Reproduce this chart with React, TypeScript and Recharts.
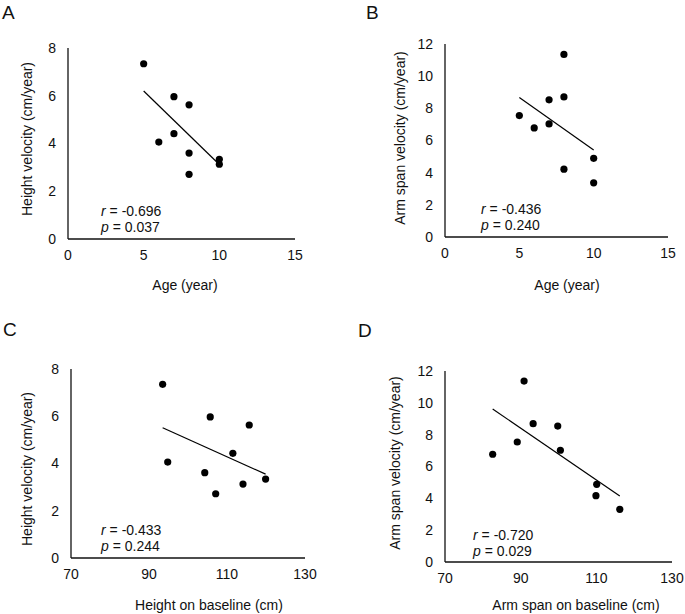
import React from 'react';
import { ScatterChart, Scatter, XAxis, YAxis } from 'recharts';

// panel A: age vs height velocity
const ageA = [5, 7, 8, 7, 6, 8, 8, 10, 10];
const heightVelA = [7.34, 5.96, 5.62, 4.41, 4.06, 3.6, 2.71, 3.34, 3.13];
const trendA = [{ x: 5, y: 6.2 }, { x: 10, y: 3.12 }];

// panel B: age vs arm span velocity
const ageB = [5, 6, 7, 7, 8, 8, 8, 10, 10];
const armVelB = [7.55, 6.78, 8.53, 7.03, 11.35, 8.71, 4.22, 4.89, 3.37];
const trendB = [{ x: 5, y: 8.67 }, { x: 10, y: 5.41 }];

// panel C: height on baseline vs height velocity
const heightBaseC = [93.5, 94.8, 104.3, 105.7, 107.1, 111.5, 114.1, 115.7, 119.9];
const heightVelC = [7.35, 4.06, 3.61, 5.97, 2.72, 4.43, 3.13, 5.63, 3.34];
const trendC = [{ x: 93.5, y: 5.51 }, { x: 119.9, y: 3.55 }];

// panel D: arm span on baseline vs arm span velocity
const armBaseD = [82.6, 89.1, 90.9, 93.3, 99.8, 100.5, 110.1, 109.9, 116.2];
const armVelD = [6.77, 7.54, 11.37, 8.69, 8.54, 7.02, 4.88, 4.17, 3.31];
const trendD = [{ x: 82.6, y: 9.61 }, { x: 116.2, y: 4.15 }];

const ageTicks = [0, 5, 10, 15];
const baseTicks = [70, 90, 110, 130];
const heightVelTicks = [0, 2, 4, 6, 8];
const armVelTicks = [0, 2, 4, 6, 8, 10, 12];

const FONT = '"Liberation Sans", Arial, sans-serif';
const INK = '#111';

const toPoints = (xs: number[], ys: number[]) => xs.map((x, i) => ({ x, y: ys[i] }));

const Dot = (props: any) => <circle cx={props.cx} cy={props.cy} r={3.6} fill="#000" />;

interface PanelProps {
  left: number;
  top: number;
  width: number;
  height: number;
  margin: { top: number; right: number; left: number; bottom: number };
  yAxisWidth: number;
  xTicks: number[];
  yTicks: number[];
  points: { x: number; y: number }[];
  trend: { x: number; y: number }[];
}

function Panel({ left, top, width, height, margin, yAxisWidth, xTicks, yTicks, points, trend }: PanelProps) {
  const tick = { fill: INK, fontSize: 14, fontFamily: FONT };
  return (
    <div style={{ position: 'absolute', left, top, width, height }}>
      <ScatterChart width={width} height={height} margin={margin}>
        <XAxis
          type="number"
          dataKey="x"
          domain={[xTicks[0], xTicks[xTicks.length - 1]]}
          ticks={xTicks}
          tickLine={false}
          tickMargin={5}
          height={30}
          axisLine={{ stroke: INK, strokeWidth: 1.3 }}
          tick={tick}
          interval={0}
        />
        <YAxis
          type="number"
          dataKey="y"
          domain={[yTicks[0], yTicks[yTicks.length - 1]]}
          ticks={yTicks}
          tickLine={false}
          tickMargin={6}
          width={yAxisWidth}
          axisLine={{ stroke: INK, strokeWidth: 1.3 }}
          tick={tick}
          interval={0}
        />
        <Scatter data={trend} line={{ stroke: '#000', strokeWidth: 1.2 }} shape={() => <g />} isAnimationActive={false} />
        <Scatter data={points} shape={Dot} isAnimationActive={false} />
      </ScatterChart>
    </div>
  );
}

function Stat({ x, y, r, p }: { x: number; y: number; r: string; p: string }) {
  return (
    <g fontSize={14} fill={INK}>
      <text x={x} y={y}>
        <tspan fontStyle="italic">r</tspan> = {r}
      </text>
      <text x={x} y={y + 16}>
        <tspan fontStyle="italic">p</tspan> = {p}
      </text>
    </g>
  );
}

export default function App() {
  return (
    <div style={{ position: 'absolute', left: 0, top: 0, width: 685, height: 614, background: '#fff', fontFamily: FONT }}>
      <Panel
        left={0}
        top={0}
        width={340}
        height={305}
        margin={{ top: 48, right: 45, left: 0, bottom: 36 }}
        yAxisWidth={68}
        xTicks={ageTicks}
        yTicks={heightVelTicks}
        points={toPoints(ageA, heightVelA)}
        trend={trendA}
      />
      <Panel
        left={340}
        top={0}
        width={345}
        height={305}
        margin={{ top: 44, right: 17, left: 0, bottom: 38 }}
        yAxisWidth={105}
        xTicks={ageTicks}
        yTicks={armVelTicks}
        points={toPoints(ageB, armVelB)}
        trend={trendB}
      />
      <Panel
        left={0}
        top={305}
        width={340}
        height={309}
        margin={{ top: 64, right: 35, left: 0, bottom: 26 }}
        yAxisWidth={71}
        xTicks={baseTicks}
        yTicks={heightVelTicks}
        points={toPoints(heightBaseC, heightVelC)}
        trend={trendC}
      />
      <Panel
        left={340}
        top={305}
        width={345}
        height={309}
        margin={{ top: 66, right: 13, left: 0, bottom: 22 }}
        yAxisWidth={105}
        xTicks={baseTicks}
        yTicks={armVelTicks}
        points={toPoints(armBaseD, armVelD)}
        trend={trendD}
      />
      <svg
        width={685}
        height={614}
        style={{ position: 'absolute', left: 0, top: 0, pointerEvents: 'none', fontFamily: FONT }}
      >
        <g fontSize={19} fill={INK}>
          <text x={2} y={19}>A</text>
          <text x={366} y={19}>B</text>
          <text x={3} y={336}>C</text>
          <text x={358} y={337}>D</text>
        </g>
        <g fontSize={14} fill={INK} textAnchor="middle">
          <text x={185} y={290}>Age (year)</text>
          <text x={567} y={290}>Age (year)</text>
          <text x={209} y={610}>Height on baseline (cm)</text>
          <text x={576} y={610}>Arm span on baseline (cm)</text>
          <text transform="translate(32,139) rotate(-90)">Height velocity (cm/year)</text>
          <text transform="translate(405,138) rotate(-90)">Arm span velocity (cm/year)</text>
          <text transform="translate(32,469) rotate(-90)">Height velocity (cm/year)</text>
          <text transform="translate(400,463) rotate(-90)">Arm span velocity (cm/year)</text>
        </g>
        <Stat x={101} y={216} r="-0.696" p="0.037" />
        <Stat x={481} y={214} r="-0.436" p="0.240" />
        <Stat x={101} y={535} r="-0.433" p="0.244" />
        <Stat x={473} y={540} r="-0.720" p="0.029" />
      </svg>
    </div>
  );
}
